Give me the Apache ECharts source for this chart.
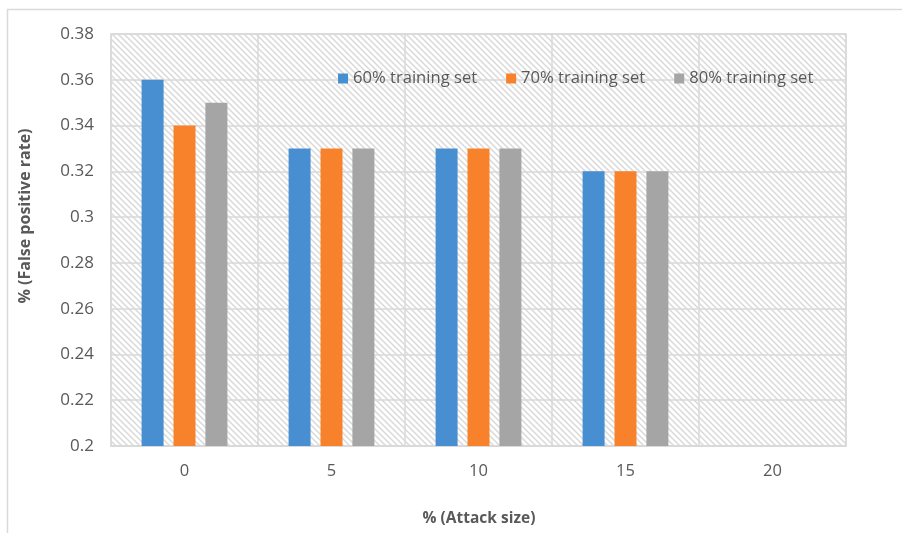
<!DOCTYPE html>
<html>
<head>
<meta charset="utf-8">
<script src="https://cdn.jsdelivr.net/npm/echarts@6/dist/echarts.min.js"></script>
<style>
  html, body { margin: 0; padding: 0; background: #ffffff; }
  #chart { width: 902px; height: 533px; }
</style>
</head>
<body>
<div id="chart"></div>
<script>
// Attack size categories (x axis)
const attackSizes = ['0', '5', '10', '15', '20'];

// False positive rate per training-set split
const series60 = [0.36, 0.33, 0.33, 0.32, null];
const series70 = [0.34, 0.33, 0.33, 0.32, null];
const series80 = [0.35, 0.33, 0.33, 0.32, null];

const seriesNames = ['60% training set', '70% training set', '80% training set'];
const seriesColors = ['#478fd1', '#f7822b', '#a5a5a5'];

// Y axis range
const yMin = 0.2;
const yMax = 0.38;
const yStep = 0.02;

// Diagonal hatch tile used for the plot background
function hatchTile() {
  const size = 6;
  const c = document.createElement('canvas');
  c.width = size;
  c.height = size;
  const ctx = c.getContext('2d');
  ctx.fillStyle = '#ffffff';
  ctx.fillRect(0, 0, size, size);
  ctx.strokeStyle = '#d9d9d9';
  ctx.lineWidth = 1.5;
  ctx.beginPath();
  ctx.moveTo(-1, -1); ctx.lineTo(size + 1, size + 1);
  ctx.moveTo(-1, size - 1); ctx.lineTo(1, size + 1);
  ctx.moveTo(size - 1, -1); ctx.lineTo(size + 1, 1);
  ctx.stroke();
  return c;
}

const textColor = '#595959';
const lineColor = '#d9d9d9';
const fontFamily = '"Open Sans", "Noto Sans", sans-serif';

const chart = echarts.init(document.getElementById('chart'), null, { renderer: 'canvas' });

const values = [series60, series70, series80];

chart.setOption({
  animation: false,
  backgroundColor: '#ffffff',
  textStyle: { fontFamily: fontFamily },
  graphic: [
    {
      type: 'rect',
      silent: true,
      z: -10,
      shape: { x: 7.5, y: 9.5, width: 1000, height: 1000 },
      style: { fill: 'none', stroke: lineColor, lineWidth: 1.5 }
    },
    {
      type: 'text',
      silent: true,
      x: 25,
      y: 216,
      rotation: Math.PI / 2,
      style: {
        text: '% (False positive rate)',
        fill: textColor,
        font: 'bold 16px ' + fontFamily,
        align: 'center',
        verticalAlign: 'middle'
      }
    },
    {
      type: 'text',
      silent: true,
      x: 479,
      y: 519,
      style: {
        text: '% (Attack size)',
        fill: textColor,
        font: 'bold 15.5px ' + fontFamily,
        align: 'center',
        verticalAlign: 'middle'
      }
    }
  ],
  legend: {
    data: seriesNames,
    left: 333,
    top: 65,
    icon: 'rect',
    itemWidth: 10,
    itemHeight: 10,
    itemGap: 29,
    textStyle: { color: textColor, fontSize: 16.6, fontFamily: fontFamily, padding: [0, 0, 0, 0] }
  },
  grid: {
    left: 111,
    top: 34,
    width: 735,
    height: 412,
    show: true,
    backgroundColor: { image: hatchTile(), repeat: 'repeat' },
    borderColor: lineColor,
    borderWidth: 1.5
  },
  xAxis: {
    type: 'category',
    data: attackSizes,
    axisLine: { show: true, lineStyle: { color: lineColor, width: 1.5 } },
    axisTick: { show: false },
    axisLabel: { color: textColor, fontSize: 16.5, margin: 17 },
    splitLine: { show: true, lineStyle: { color: lineColor, width: 1.5 } }
  },
  yAxis: {
    type: 'value',
    min: yMin,
    max: yMax,
    interval: yStep,
    axisLine: { show: false },
    axisTick: { show: false },
    axisLabel: {
      color: textColor,
      fontSize: 17,
      margin: 17,
      formatter: function (v) { return String(parseFloat(v.toFixed(2))); }
    },
    splitLine: { show: true, lineStyle: { color: lineColor, width: 1.5 } }
  },
  series: seriesNames.map(function (name, i) {
    return {
      name: name,
      type: 'bar',
      data: values[i],
      barWidth: 22,
      barGap: '45%',
      itemStyle: { color: seriesColors[i] }
    };
  })
});
</script>
</body>
</html>
